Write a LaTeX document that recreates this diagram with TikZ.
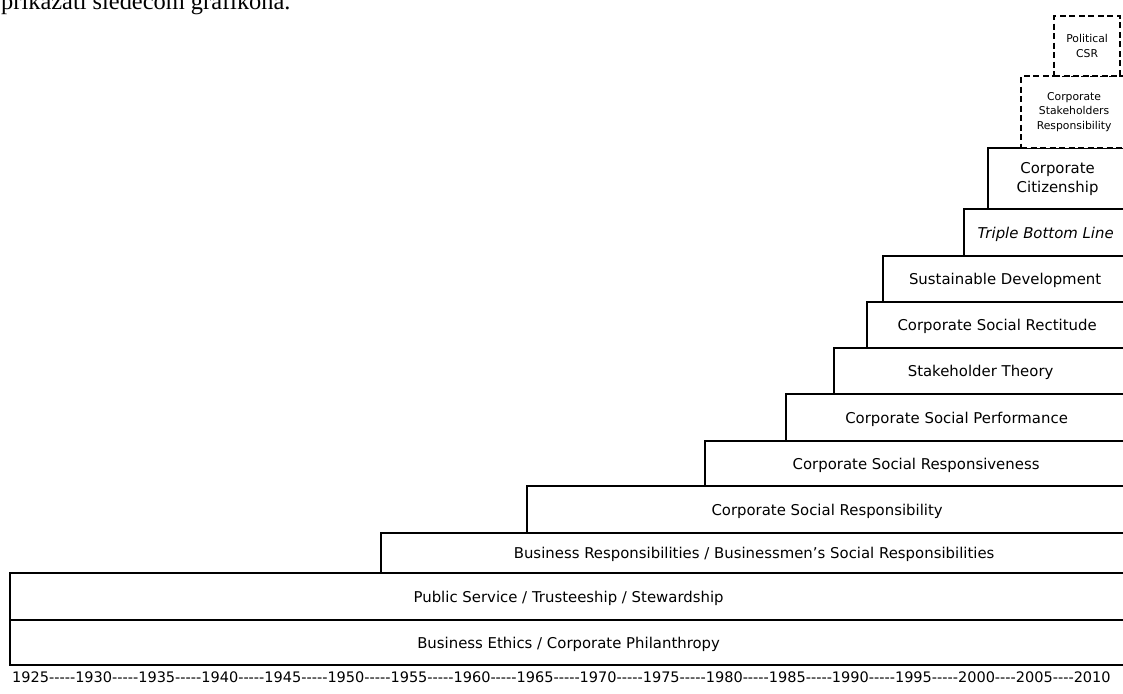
\documentclass[tikz,border=0pt]{standalone}
\usepackage{fontspec}
\setmainfont{DejaVu Sans}
\newfontfamily\serifrm{Liberation Serif}
% runs of plain hyphens on the time axis (no dash ligatures)
\newcommand\fived{-{}-{}-{}-{}-}
\newcommand\fourd{-{}-{}-{}-}

\begin{document}
\begin{tikzpicture}[x=1pt,y=-1pt,
  stairbox/.style={draw, line width=2.2pt, inner sep=0pt, anchor=north west,
    align=center, font=\fontsize{14.9}{19}\selectfont},
  oneline/.style={stairbox, text depth=0pt},
  newbox/.style={stairbox, fill=white, dash pattern=on 6pt off 3.5pt,
    font=\fontsize{10.8}{14.5}\selectfont},
]
\useasboundingbox (0,0) rectangle (1123,693);
\clip (0,0) rectangle (1123,693);

% line of running text above the figure
\node[anchor=base west, inner sep=0pt, font=\serifrm\fontsize{24.4}{28}\selectfont]
  (intro) at (1,10) {prikazati sledećom grafikona.};

% the staircase, from the oldest concept upwards
\node[oneline, minimum width=1117pt, minimum height=45pt] (ethics) at (9,619)
  {Business Ethics / Corporate Philanthropy};
\node[oneline, minimum width=1117pt, minimum height=47pt] (public) at (9,572)
  {Public Service / Trusteeship / Stewardship};
\node[oneline, minimum width=746pt, minimum height=40pt] (busresp) at (380,532)
  {Business Responsibilities / Businessmen's Social Responsibilities};
\node[oneline, minimum width=600pt, minimum height=47pt] (csr) at (526,485)
  {Corporate Social Responsibility};
\node[oneline, minimum width=422pt, minimum height=45pt] (csresponsive) at (704,440)
  {Corporate Social Responsiveness};
\node[oneline, minimum width=341pt, minimum height=47pt] (csp) at (785,393)
  {Corporate Social Performance};
\node[oneline, minimum width=293pt, minimum height=46pt] (stake) at (833,347)
  {Stakeholder Theory};
\node[oneline, minimum width=260pt, minimum height=46pt] (rectitude) at (866,301)
  {Corporate Social Rectitude};
\node[oneline, minimum width=244pt, minimum height=46pt] (sustain) at (882,255)
  {Sustainable Development};
\node[oneline, minimum width=163pt, minimum height=47pt] (tbl) at (963,208)
  {\itshape Triple Bottom Line};
\node[stairbox, minimum width=139pt, minimum height=61pt] (citizen) at (987,147)
  {Corporate\\Citizenship};

% emerging concepts, dashed
\node[newbox, minimum width=106pt, minimum height=72pt] (stakeresp) at (1020,75)
  {Corporate\\Stakeholders\\Responsibility};
\node[newbox, minimum width=66pt, minimum height=60pt] (political) at (1053,15)
  {Political\\CSR};

% time axis
\node[anchor=base west, inner sep=0pt, font=\fontsize{14.5}{17}\selectfont]
  (years) at (12,682)
  {1925\fived1930\fived1935\fived1940\fived1945\fived1950\fived1955\fived1960\fived1965\fived1970\fived1975\fived1980\fived1985\fived1990\fived1995\fived2000\fourd2005\fourd2010};
\end{tikzpicture}
\end{document}
